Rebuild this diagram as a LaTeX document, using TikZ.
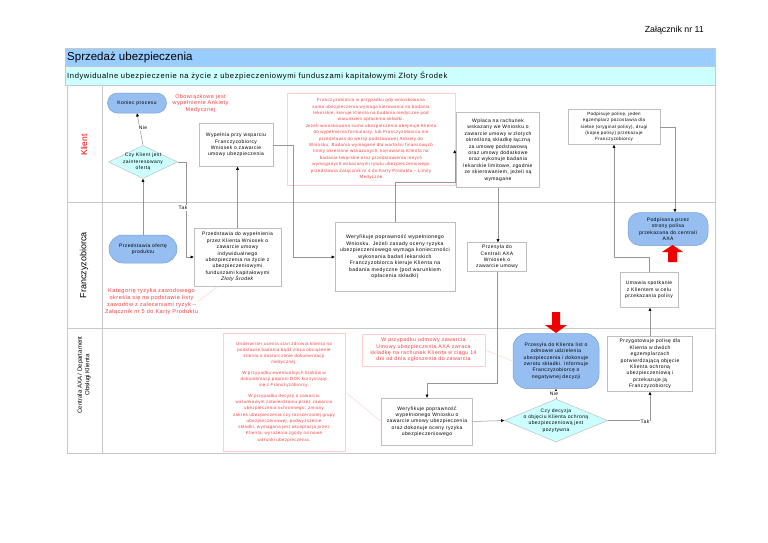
\documentclass[tikz,border=0pt]{standalone}
\usepackage{fontspec}
\setmainfont{Liberation Sans}
\newfontfamily\lsfont[LetterSpace=8]{Liberation Sans}
\newcommand\fsz[2]{\fontsize{#1}{#2}\selectfont}
\usetikzlibrary{shapes.geometric,shapes.misc,arrows.meta,calc}
\definecolor{boxgray}{RGB}{190,190,190}
\definecolor{conngray}{RGB}{150,150,150}
\definecolor{bluefill}{RGB}{150,190,240}
\definecolor{bluedraw}{RGB}{120,160,215}
\definecolor{cyanfill}{RGB}{204,255,255}
\definecolor{notered}{RGB}{250,60,60}
\definecolor{notedraw}{RGB}{255,205,205}
\definecolor{titleblue}{RGB}{153,204,255}
\definecolor{subcyan}{RGB}{204,255,255}
\definecolor{framegray}{RGB}{200,200,200}
\definecolor{bigred}{RGB}{240,0,0}
\begin{document}
\begin{tikzpicture}[x=1pt,y=-1pt,
 txt/.style={font=\lsfont\fsz{5}{6.4}, align=center, inner sep=0pt},
 procbox/.style={txt, draw=boxgray, fill=white, line width=0.5pt},
 bluebox/.style={txt, draw=bluedraw, fill=bluefill, line width=0.5pt},
 stadium/.style={bluebox, rounded rectangle},
 decision/.style={diamond, draw=boxgray, fill=cyanfill, line width=0.5pt, inner sep=0pt},
 note/.style={txt, text=notered, draw=notedraw, line width=0.4pt},
 conn/.style={draw=conngray, line width=0.5pt},
 arr/.style={conn, -{Triangle[length=3.2pt,width=2.8pt,color=black]}},
 annot/.style={draw=notedraw, line width=0.4pt},
 lbl/.style={txt, fill=white, inner sep=0.8pt},
 lane/.style={draw=framegray, line width=0.6pt},
 redarrow/.style={fill=bigred, draw=none}
]
\fill[white] (0,0) rectangle (768,543);
\useasboundingbox (0,0) rectangle (768,543);

% header
\node[anchor=east, font=\fsz{8.8}{10}, inner sep=0] (zal) at (704,30) {Załącznik nr 11};
\draw[lane, fill=titleblue] (65,48) rectangle (715,66);
\node[anchor=west, font=\fsz{11.5}{13}, inner sep=0] (title) at (67,57.5) {Sprzedaż ubezpieczenia};
\draw[lane, fill=subcyan] (65,66) rectangle (715,85);
\node[anchor=west, font=\lsfont\fsz{7.6}{9}, inner sep=0] (sub) at (67,76) {Indywidualne ubezpieczenie na życie z ubezpieczeniowymi funduszami kapitałowymi Złoty Środek};

% lanes
\draw[lane] (67,85) rectangle (715,453);
\draw[lane] (67,202) -- (715,202);
\draw[lane] (67,328) -- (715,328);
\draw[lane] (102,85) -- (102,453);
\node[rotate=90, text=red, font=\fsz{8.5}{10}, inner sep=0] (lk) at (84,145) {Klient};
\node[rotate=90, font=\fsz{9}{10}, inner sep=0] (lf) at (84,265) {Franczyzobiorca};
\node[rotate=90, font=\fsz{6.1}{7.6}, align=center, inner sep=0] (lc) at (84,375) {Centrala AXA / Departament\\Obsługi Klienta};

% ---- Klient lane
\node[stadium, minimum width=59pt, minimum height=20pt] (kon) at (137,103) {Koniec procesu};
\node[txt, text=notered, font=\lsfont\fsz{5.5}{6.6}] (obw) at (200.5,103.5) {Obowiązkowe jest\\wypełnienie Ankiety\\Medycznej};
\node[decision, minimum width=69pt, minimum height=33pt,
      label={[txt]center:{Czy Klient jest\\zainteresowany\\ofertą}}] (d1) at (143,162) {};
\node[procbox, minimum width=74pt, minimum height=43pt] (wyp) at (236,145)
 {Wypełnia przy wsparciu\\Franczyzobiorcy\\Wniosek o zawarcie\\umowy ubezpieczenia};
\node[note, font=\lsfont\fsz{4.4}{6.4}, minimum width=168pt, minimum height=92pt] (big) at (371,139)
 {Franczyzobiorca w przypadku gdy wnioskowana\\suma ubezpieczenia wymaga kierowania na badania\\lekarskie, kieruje Klienta na badania medyczne pod\\warunkiem opłacenia składki.\\Jeżeli wnioskowana suma ubezpieczenia obejmuje Klienta\\do wypełnienia formularzy, lub Franczyzobiorca nie\\przedstawia do wersji podstawowej Ankiety do\\Wniosku. Badania wymagane dla wartości finansowych\\limity określone wskazanych, kierowania Klienta na\\badania lekarskie oraz przedstawienia innych\\wymaganych wskazanymi tytułu ubezpieczeniowego\\przedstawia Załącznik nr 4 do Karty Produktu – Limity\\Medyczne};
\node[procbox, minimum width=83pt, minimum height=75pt] (wpl) at (498,150)
 {Wpłaca na rachunek\\wskazany we Wniosku o\\zawarcie umowy w złotych\\określoną składkę łączną\\za umowę podstawową\\oraz umowy dodatkowe\\oraz wykonuje badania\\lekarskie limitowe, zgodnie\\ze skierowaniem, jeżeli są\\wymagane};
\node[procbox, font=\lsfont\fsz{4.5}{6.3}, minimum width=92pt, minimum height=35pt] (pod) at (614,127)
 {Podpisuje polisę, jeden\\egzemplarz pozostawia dla\\siebie (oryginał polisy), drugi\\(kopię polisy) przekazuje\\Franczyzobiorcy};

% ---- Franczyzobiorca lane
\node[stadium, minimum width=68pt, minimum height=28pt] (ofr) at (143,249) {Przedstawia ofertę\\produktu};
\node[txt, text=notered, font=\lsfont\fsz{5.6}{6.8}] (kat) at (151.5,301.5)
 {Kategorię ryzyka zawodowego\\określa się na podstawie listy\\zawodów z zaleceniami ryzyk –\\Załącznik nr 5 do Karty Produktu};
\node[procbox, minimum width=87pt, minimum height=58pt] (pwy) at (237.5,257)
 {Przedstawia do wypełnienia\\przez Klienta Wniosek o\\zawarcie umowy\\indywidualnego\\ubezpieczenia na życie z\\ubezpieczeniowymi\\funduszami kapitałowymi\\\textit{Złoty Środek}};
\node[procbox, font=\lsfont\fsz{5.1}{6.5}, minimum width=120pt, minimum height=69pt] (wer) at (395,257)
 {Weryfikuje poprawność wypełnionego\\Wniosku. Jeżeli zasady oceny ryzyka\\ubezpieczeniowego wymaga konieczności\\wykonania badań lekarskich\\Franczyzobiorca kieruje Klienta na\\badania medyczne (pod warunkiem\\opłacenia składki)};
\node[procbox, minimum width=59pt, minimum height=29pt] (prz) at (497,257)
 {Przesyła do\\Centrali AXA\\Wniosek o\\zawarcie umowy};
\node[bluebox, rounded corners=12pt, minimum width=80pt, minimum height=33pt] (podp) at (668,229)
 {Podpisana przez\\strony polisa\\przekazana do centrali\\AXA};
\node[procbox, minimum width=58pt, minimum height=35pt] (uma) at (649,290)
 {Umawia spotkanie\\z Klientem w celu\\przekazania polisy};

% ---- Centrala lane
\node[note, font=\lsfont\fsz{4.4}{6.3}, minimum width=122pt, minimum height=118pt] (n1) at (284,392)
 {Underwriter ocenia stan zdrowia klienta na\\podstawie badania bądź zleca obciążenie\\klienta o dostarczenie dokumentacji\\medycznej.\\[4pt]W przypadku ewentualnych braków w\\dokumentacji poprosi DOK korzystając\\się z Franczyzobiorcy.\\[4pt]W przypadku decyzji o zawarciu\\warunkowym zatwierdzaniu przez zawarcia\\ubezpieczenia ochronnego: zmiany\\zakres ubezpieczenia czy rozszerzonej grupy\\ubezpieczeniowej, podwyższenie\\składki, wymagana jest akceptacja przez\\Klienta, wyrażenia zgody na nowe\\warunki ubezpieczenia.};
\node[note, font=\lsfont\fsz{5.3}{6.4}, minimum width=123pt, minimum height=32pt] (n2) at (423.5,350)
 {W przypadku odmowy zawarcia\\Umowy ubezpieczenia AXA zwraca\\składkę na rachunek Klienta w ciągu 14\\dni od dnia zgłoszenia do zawarcia};
\node[procbox, minimum width=91pt, minimum height=47pt] (wer2) at (427,421.5)
 {Weryfikuje poprawność\\wypełnionego Wniosku o\\zawarcie umowy ubezpieczenia\\oraz dokonuje oceny ryzyka\\ubezpieczeniowego};
\node[decision, minimum width=103pt, minimum height=43pt,
      label={[txt]center:{Czy decyzja\\o objęciu Klienta ochroną\\ubezpieczeniową jest\\pozytywna}}] (d2) at (556,420.5) {};
\node[bluebox, rounded corners=14pt, minimum width=86pt, minimum height=55pt] (odm) at (556,361)
 {Przesyła do Klienta list o\\odmowie udzielenia\\ubezpieczenia i dokonuje\\zwrotu składki. Informuje\\Franczyzobiorcę o\\negatywnej decyzji};
\node[procbox, minimum width=85pt, minimum height=55pt] (prg) at (650,364)
 {Przygotowuje polisę dla\\Klienta w dwóch\\egzemplarzach\\potwierdzającą objęcie\\Klienta ochroną\\ubezpieczeniową i\\przekazuje ją\\Franczyzobiorcy};

% big red arrows
\fill[redarrow] (552,312) -- (560,312) -- (560,325) -- (567,325) -- (556,333) -- (545,325) -- (552,325) -- cycle;
\fill[redarrow] (668,262) -- (677,262) -- (677,252) -- (683,252) -- (672.5,245) -- (662,252) -- (668,252) -- cycle;

% connectors
\draw[arr] (ofr.north) -- (d1.south);
\draw[arr] (d1.north) -- (kon.south);
\node[lbl] (nie1) at (143,128) {Nie};
\draw[arr] (d1.east) -- ++(8,0) |- (pwy.west);
\node[lbl] (tak1) at (183,208) {Tak};
\draw[arr] (pwy.north) -- (pwy.north |- wyp.south);
\draw[arr] (wyp.east) -- ++(20,0) |- (wer.west);
\draw[arr] (wer.north) -- ++(0,-40) -| ([xshift=-1.5pt]wpl.west);
\draw[arr] (wpl.south) -- (wpl.south |- prz.north);
\draw[arr] (prz.south) |- ($(wer2.north)+(0,-15)$) -- (wer2.north);
\draw[arr] (wer2.east) -- (d2.west);
\draw[arr] (d2.north) -- (odm.south);
\node[lbl] (nie2) at (554,394) {Nie};
\draw[arr] (d2.east) -| (prg.south);
\node[lbl] (tak2) at (645,422) {Tak};
\draw[arr] (prg.north) -- (prg.north |- uma.south);
\draw[arr] (uma.north) -- ++(0,-15) -| (pod.south);
\draw[arr] (pod.east) -| ([xshift=7pt]podp.north);

% annotation links
\draw[annot] (kat.east) -- ($(pwy.south)+(-20,0)$);
\draw[annot] (n1.east) -- (wer2.west);
\draw[annot] (n2.east) -- (odm.west);
\end{tikzpicture}
\end{document}
